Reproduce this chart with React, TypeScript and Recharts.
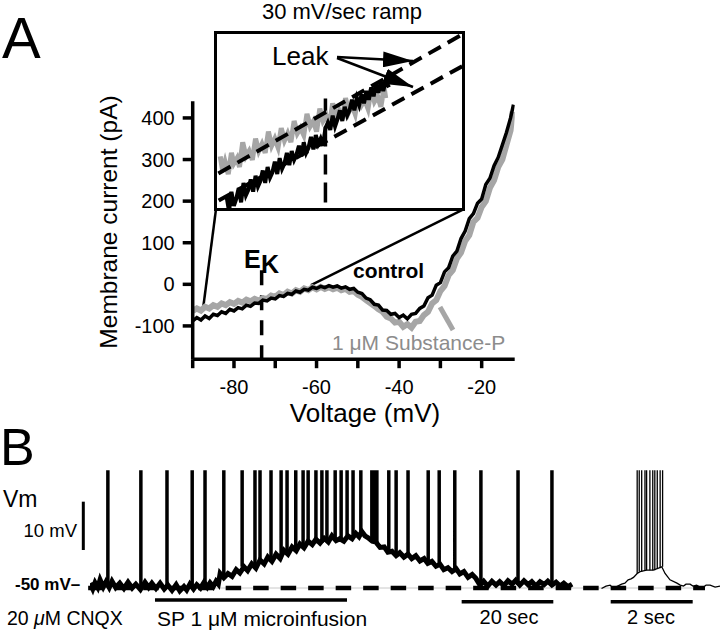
import React from 'react';
import { LineChart, Line, XAxis, YAxis, ReferenceLine } from 'recharts';

const FONT = '"Liberation Sans", Arial, Helvetica, sans-serif';
const GRAY = '#a6a6a6';

// ---- Panel A: ramp I-V (mV, pA) ----
const controlIV = [
  [-90, -88], [-89, -80], [-88, -86], [-87, -76], [-86, -82], [-85, -72], [-84, -75], [-83, -66],
  [-82, -70], [-81, -60], [-80, -64], [-79, -56], [-78, -59], [-77, -50], [-76, -53], [-75, -45],
  [-74, -46], [-73, -38], [-72, -40], [-71, -33], [-70, -35], [-69, -27], [-68, -29], [-67, -22],
  [-66, -24], [-65, -16], [-64, -19], [-63, -12], [-62, -14], [-61, -7], [-60, -10], [-59, -5],
  [-58, -8], [-57, -3], [-56, -7], [-55, -4], [-54, -9], [-53, -6], [-52, -12], [-51, -10],
  [-50, -19], [-49, -22], [-48, -33], [-47, -37], [-46, -48], [-45, -50], [-44, -62], [-43, -63],
  [-42, -72], [-41, -70], [-40, -80], [-39, -74], [-38, -83], [-37, -72], [-36, -70], [-35, -58],
  [-34, -52], [-33, -32], [-32, -26], [-31, -2], [-30, 4], [-29, 30], [-28, 40], [-27, 68],
  [-26, 80], [-25, 110], [-24, 128], [-23, 158], [-22, 170], [-21, 195], [-20, 205], [-19, 240],
  [-18, 255], [-17, 285], [-16, 305], [-15, 335], [-14, 365], [-13, 400], [-12.3, 432],
];

const substancePIV = [
  [-90, -64], [-89, -58], [-88, -63], [-87, -54], [-86, -58], [-85, -50], [-84, -54], [-83, -46],
  [-82, -50], [-81, -43], [-80, -47], [-79, -40], [-78, -44], [-77, -37], [-76, -41], [-75, -35],
  [-74, -39], [-73, -33], [-72, -35], [-71, -27], [-70, -30], [-69, -22], [-68, -26], [-67, -18],
  [-66, -22], [-65, -14], [-64, -18], [-63, -10], [-62, -14], [-61, -7], [-60, -12], [-59, -6],
  [-58, -11], [-57, -7], [-56, -12], [-55, -8], [-54, -14], [-53, -11], [-52, -18], [-51, -16],
  [-50, -25], [-49, -30], [-48, -38], [-47, -45], [-46, -52], [-45, -60], [-44, -66], [-43, -78],
  [-42, -82], [-41, -92], [-40, -90], [-39, -102], [-38, -96], [-37, -104], [-36, -90], [-35, -88],
  [-34, -74], [-33, -66], [-32, -46], [-31, -38], [-30, -16], [-29, -4], [-28, 22], [-27, 34],
  [-26, 62], [-25, 76], [-24, 104], [-23, 118], [-22, 150], [-21, 160], [-20, 186], [-19, 200],
  [-18, 232], [-17, 250], [-16, 282], [-15, 300], [-14, 335], [-13, 370], [-12.5, 415],
];

const voltTicks = [-90, -80, -70, -60, -50, -40, -30, -20];
const currTicks = [-100, 0, 100, 200, 300, 400];
const EK = -73.3;

// inset (magnified part of the ramp)
const insetSP = [
  [-86.4, -60], [-86.1, -68], [-85.8, -63], [-85.4, -70], [-85, -58], [-84.7, -64], [-84.3, -61], [-84, -66],
  [-83.6, -52], [-83.2, -60], [-82.8, -57], [-82.4, -62], [-82, -50], [-81.6, -57], [-81.2, -53], [-80.8, -58],
  [-80.4, -46], [-80, -54], [-79.6, -50], [-79.2, -55], [-78.8, -44], [-78.4, -51], [-78, -47], [-77.6, -52],
  [-77.2, -40], [-76.8, -47], [-76.4, -44], [-76, -48], [-75.6, -36], [-75.2, -43], [-74.8, -40], [-74.4, -46],
  [-74, -33], [-73.6, -40], [-73.2, -37], [-72.8, -42], [-72.4, -30], [-72, -37], [-71.6, -34], [-71.2, -39],
  [-70.8, -27], [-70.4, -35], [-70, -31], [-69.6, -36], [-69.2, -25], [-68.8, -31], [-68.4, -28], [-68, -33],
  [-67.6, -22], [-67.2, -29], [-66.8, -26], [-66.4, -32], [-66, -21], [-65.8, -27],
];
const insetControl = [
  [-85.6, -83], [-85.3, -91], [-85, -80], [-84.7, -88], [-84.4, -84], [-84.1, -78], [-83.8, -86], [-83.5, -75],
  [-83.2, -82], [-82.9, -79], [-82.6, -73], [-82.3, -80], [-82, -71], [-81.7, -77], [-81.4, -74], [-81.1, -68],
  [-80.8, -75], [-80.5, -66], [-80.2, -72], [-79.9, -69], [-79.6, -63], [-79.3, -70], [-79, -61], [-78.7, -67],
  [-78.4, -64], [-78.1, -58], [-77.8, -65], [-77.5, -57], [-77.2, -62], [-76.9, -59], [-76.6, -54], [-76.3, -60],
  [-76, -52], [-75.7, -58], [-75.4, -55], [-75.1, -49], [-74.8, -56], [-74.5, -48], [-74.2, -53], [-73.9, -50],
  [-73.6, -54], [-73.3, -44], [-73, -41], [-72.7, -45], [-72.4, -37], [-72.1, -43], [-71.8, -39], [-71.5, -34],
  [-71.2, -40], [-70.9, -32], [-70.6, -37], [-70.3, -34], [-70, -28], [-69.7, -34], [-69.4, -27], [-69.1, -31],
  [-68.8, -25], [-68.5, -30], [-68.2, -23], [-67.9, -28], [-67.6, -21], [-67.3, -26], [-67, -19], [-66.7, -24],
  [-66.4, -18], [-66.1, -23], [-65.8, -17], [-65.4, -21],
];
const leakSP = [[-86.63, -69.7], [-56.1, 9.4]];
const leakControl = [[-86.59, -84.9], [-56.1, -8.6]];

// ---- Panel B: membrane potential (s, mV) ----
const vmTrace = [
  [0, -49.0], [0.6, -50.2], [1.1, -48.9], [1.7, -49.9], [2.2, -48.3], [2.9, -49.8], [3.5, -48.7], [4.2, -49.9],
  [4.8, -48.6], [5.6, -49.9], [6.5, -49.0], [7.4, -50.1], [8.3, -48.8], [9.2, -50.0], [10.0, -49.2], [11.0, -50.3],
  [12.0, -48.8], [12.8, -49.9], [13.5, -49.0], [14.4, -50.1], [15.3, -49.0], [16.2, -50.2], [17.0, -49.4], [17.9, -50.5],
  [18.8, -49.3], [19.6, -50.6], [20.5, -49.7], [21.1, -50.4], [21.8, -49.2], [22.6, -50.2], [23.3, -49.3], [24.1, -50.0],
  [24.9, -48.8], [25.6, -49.8], [26.2, -48.9], [26.9, -49.7], [27.5, -48.6], [28.0, -49.2], [28.4, -47.0], [29.2, -47.9],
  [30.1, -47.0], [31.0, -47.6], [31.9, -46.2], [32.7, -46.9], [33.6, -45.6], [34.4, -46.4], [35.3, -45.0], [36.2, -45.9],
  [37.1, -44.2], [38.0, -45.0], [38.8, -43.6], [39.7, -44.5], [40.6, -43.0], [41.5, -43.9], [42.3, -42.2], [43.2, -43.0],
  [44.1, -41.5], [45.0, -42.3], [45.8, -40.9], [46.7, -41.7], [47.6, -40.3], [48.5, -41.0], [49.3, -39.9], [50.2, -40.7],
  [51.1, -39.7], [52.0, -40.5], [52.8, -39.2], [53.7, -40.2], [54.5, -39.8], [55.4, -40.3], [56.3, -39.2], [57.2, -39.8],
  [58.0, -38.7], [58.7, -39.4], [59.3, -38.3], [60.0, -39.2], [60.7, -39.6], [61.6, -40.3], [62.4, -40.5], [63.3, -41.6],
  [64.2, -41.5], [65.0, -42.6], [65.9, -42.4], [66.8, -43.3], [67.6, -42.7], [68.5, -43.6], [69.4, -43.0], [70.2, -43.9],
  [71.1, -43.3], [72.0, -44.4], [72.9, -43.9], [73.7, -44.9], [74.6, -44.5], [75.5, -45.5], [76.4, -45.1], [77.2, -46.2],
  [78.1, -45.8], [79.0, -46.6], [79.9, -46.0], [80.7, -47.1], [81.6, -46.6], [82.5, -47.8], [83.4, -47.2], [84.2, -48.0],
  [85.1, -49.4], [85.9, -48.6], [86.8, -49.6], [87.7, -48.6], [88.6, -49.4], [89.4, -48.7], [90.3, -49.5], [91.2, -48.5],
  [92.1, -49.2], [92.9, -48.4], [93.8, -49.4], [94.7, -48.5], [95.6, -49.3], [96.4, -48.7], [97.3, -49.6], [98.2, -48.7],
  [99.1, -49.3], [99.9, -48.6], [100.8, -49.4], [101.7, -48.8], [102.6, -49.6], [103.4, -49.0], [104.3, -49.7], [105.2, -49.2],
];
const spikeTimes = [
  3.9, 11.1, 16.8, 22.3, 25.1, 29.2, 33.2, 36.0, 37.1, 39.5, 41.7, 43.0, 44.9, 46.5, 47.6, 49.3, 50.6,
  51.7, 53.5, 54.8, 56.1, 57.4, 59.1, 61.5, 62.2, 62.6, 65.2, 66.8, 69.4, 73.8, 76.2, 79.6, 85.3, 93.4, 100.8,
];
const burstTrace = [
  [0.11, -50.1], [0.22, -49.6], [0.32, -49.4], [0.39, -50.0], [0.48, -49.7], [0.6, -49.2], [0.68, -49.0],
  [0.76, -48.3], [0.83, -48.1], [0.89, -47.8], [0.98, -47.0], [1.05, -46.6], [1.21, -46.3], [1.37, -46.3],
  [1.5, -45.9], [1.58, -45.6], [1.66, -47.0], [1.78, -48.3], [1.95, -49.0], [2.03, -49.4], [2.11, -49.6],
  [2.17, -49.2], [2.27, -49.2], [2.34, -49.6], [2.43, -49.4], [2.51, -49.8], [2.59, -49.9], [2.66, -49.4],
  [2.76, -49.4], [2.88, -49.8], [3.0, -49.6],
];
const burstSpikeTimes = [0.98, 1.03, 1.09, 1.17, 1.21, 1.29, 1.36, 1.41, 1.47, 1.54, 1.6];
const SPIKE_PEAK = -25.6;

const pts = (arr: number[][]) => arr.map(([x, y]) => ({ x, y }));
const nearestV = (trace: number[][], t: number) =>
  trace.reduce((b, p) => (Math.abs(p[0] - t) < Math.abs(b[0] - t) ? p : b))[1];
const spikeRows = (times: number[], trace: number[][]) =>
  times.flatMap((t) => [
    { x: t, y: nearestV(trace, t) },
    { x: t, y: SPIKE_PEAK },
    { x: t, y: null },
  ]);

const axisStyle = { stroke: '#000', strokeWidth: 3.5 };
const tickStyle = { fill: '#000', fontSize: 20, fontFamily: FONT };
const abs = (left: number, top: number): React.CSSProperties => ({ position: 'absolute', left, top });

const App: React.FC = () => {
  return (
    <div style={{ position: 'absolute', left: 0, top: 0, width: 720, height: 636, background: '#fff', fontFamily: FONT }}>
      {/* Panel A main chart */}
      <div style={abs(0, 0)}>
        <LineChart width={720} height={420} margin={{ top: 101.3, right: 205.3, bottom: 0, left: 0 }}>
          <XAxis type="number" dataKey="x" domain={[-90, -12]} ticks={voltTicks} interval={0}
            tickFormatter={(v: number) => (v % 20 === 0 ? String(v) : '')}
            axisLine={axisStyle} tickLine={axisStyle} tickSize={9} tickMargin={12} tick={tickStyle} height={60.8} allowDataOverflow />
          <YAxis type="number" dataKey="y" domain={[-180, 440]} ticks={currTicks} interval={0}
            axisLine={axisStyle} tickLine={axisStyle} tickSize={10} tickMargin={8} tick={tickStyle} width={192.7} allowDataOverflow />
          <ReferenceLine segment={[{ x: -84.35, y: 181 }, { x: -87.5, y: -59.4 }]} stroke="#000" strokeWidth={2.5} ifOverflow="visible" />
          <ReferenceLine segment={[{ x: -24.3, y: 181 }, { x: -61.35, y: -1.7 }]} stroke="#000" strokeWidth={2.5} ifOverflow="visible" />
          <ReferenceLine segment={[{ x: EK, y: 34 }, { x: EK, y: -180 }]} stroke="#000" strokeWidth={3.5} strokeDasharray="15 10" ifOverflow="visible" />
          <Line data={pts(substancePIV)} dataKey="y" stroke={GRAY} strokeWidth={6} dot={false} isAnimationActive={false} />
          <Line data={pts(controlIV)} dataKey="y" stroke="#000" strokeWidth={3.5} dot={false} isAnimationActive={false} />
        </LineChart>
      </div>

      {/* Panel A inset */}
      <div style={{ ...abs(213.5, 30.5), width: 251, height: 180, border: '3px solid #000', boxSizing: 'border-box', background: '#fff' }}>
        <LineChart width={245} height={174} margin={{ top: 0, right: 0, bottom: 0, left: 0 }}>
          <XAxis type="number" dataKey="x" domain={[-86.8, -56.3]} hide allowDataOverflow />
          <YAxis type="number" dataKey="y" domain={[-89.2, 9.2]} hide allowDataOverflow />
          <ReferenceLine segment={[{ x: EK, y: -27.3 }, { x: EK, y: -89.2 }]} stroke="#000" strokeWidth={3.5} strokeDasharray="20 8" ifOverflow="visible" />
          <Line data={pts(insetSP)} dataKey="y" stroke={GRAY} strokeWidth={5} dot={false} isAnimationActive={false} />
          <Line data={pts(insetControl)} dataKey="y" stroke="#000" strokeWidth={4} dot={false} isAnimationActive={false} />
          <Line data={pts(leakSP)} dataKey="y" stroke="#000" strokeWidth={4} strokeDasharray="14 8" dot={false} isAnimationActive={false} />
          <Line data={pts(leakControl)} dataKey="y" stroke="#000" strokeWidth={4} strokeDasharray="14 8" dot={false} isAnimationActive={false} />
        </LineChart>
      </div>

      {/* Panel B long recording */}
      <div style={abs(0, 420)}>
        <LineChart width={720} height={216} margin={{ top: 42.4, right: 15, bottom: 19, left: 90 }}>
          <XAxis type="number" dataKey="x" domain={[0, 134.2]} hide allowDataOverflow />
          <YAxis type="number" dataKey="y" domain={[-56, -24]} hide allowDataOverflow />
          <ReferenceLine segment={[{ x: -0.4, y: -50 }, { x: 134.2, y: -50 }]} stroke="#c8c8c8" strokeWidth={1} ifOverflow="visible" />
          <ReferenceLine segment={[{ x: -0.4, y: -50 }, { x: 134.2, y: -50 }]} stroke="#000" strokeWidth={4.5} strokeDasharray="15.5 12" ifOverflow="visible" />
          <ReferenceLine segment={[{ x: -1.46, y: -42.13 }, { x: -1.46, y: -32.13 }]} stroke="#000" strokeWidth={3} ifOverflow="visible" />
          <ReferenceLine segment={[{ x: 14.18, y: -52.48 }, { x: 56.08, y: -52.48 }]} stroke="#000" strokeWidth={3.5} ifOverflow="visible" />
          <ReferenceLine segment={[{ x: 81.1, y: -52.84 }, { x: 101.1, y: -52.84 }]} stroke="#000" strokeWidth={3.5} ifOverflow="visible" />
          <Line data={pts(vmTrace)} dataKey="y" stroke="#000" strokeWidth={5} dot={false} isAnimationActive={false} />
          <Line data={spikeRows(spikeTimes, vmTrace)} dataKey="y" stroke="#000" strokeWidth={3.5} dot={false} connectNulls={false} isAnimationActive={false} />
        </LineChart>
      </div>

      {/* Panel B burst (2 sec scale) */}
      <div style={abs(560, 420)}>
        <LineChart width={160} height={216} margin={{ top: 42.4, right: 0, bottom: 19, left: 37 }}>
          <XAxis type="number" dataKey="x" domain={[0, 3]} hide allowDataOverflow />
          <YAxis type="number" dataKey="y" domain={[-56, -24]} hide allowDataOverflow />
          <ReferenceLine segment={[{ x: 0.334, y: -52.84 }, { x: 2.334, y: -52.84 }]} stroke="#000" strokeWidth={3.5} ifOverflow="visible" />
          <Line data={pts(burstTrace)} dataKey="y" stroke="#000" strokeWidth={1.3} dot={false} isAnimationActive={false} />
          <Line data={spikeRows(burstSpikeTimes, burstTrace)} dataKey="y" stroke="#000" strokeWidth={1.3} dot={false} connectNulls={false} isAnimationActive={false} />
        </LineChart>
      </div>

      {/* annotations */}
      <svg width={720} height={636} style={{ position: 'absolute', left: 0, top: 0, pointerEvents: 'none' }} fontFamily={FONT}>
        <defs>
          <marker id="arrowHead" markerUnits="userSpaceOnUse" markerWidth={32} markerHeight={16} refX={30} refY={8} orient="auto">
            <path d="M0,0 L30,8 L0,16 Z" fill="#000" />
          </marker>
        </defs>
        <text x={2} y={58} fontSize={58}>A</text>
        <text x={342} y={19} fontSize={22} textAnchor="middle">30 mV/sec ramp</text>
        <text x={272} y={65} fontSize={26}>Leak</text>
        <line x1={337} y1={57} x2={413} y2={61} stroke="#000" strokeWidth={2.5} markerEnd="url(#arrowHead)" />
        <line x1={337} y1={58} x2={413} y2={87} stroke="#000" strokeWidth={2.5} markerEnd="url(#arrowHead)" />
        <text x={244} y={268} fontSize={25} fontWeight="bold">E</text>
        <text x={261} y={273} fontSize={25} fontWeight="bold">K</text>
        <text x={353} y={278} fontSize={21} fontWeight="bold">control</text>
        <line x1={440} y1={307} x2={453} y2={330} stroke={GRAY} strokeWidth={5} />
        <text x={332} y={350} fontSize={21} fill="#8c8c8c">1 μM Substance-P</text>
        <text x={365} y={422} fontSize={26} textAnchor="middle">Voltage (mV)</text>
        <text transform="translate(117,222) rotate(-90)" fontSize={24.5} textAnchor="middle">Membrane current (pA)</text>

        <text x={0} y={465} fontSize={52}>B</text>
        <text x={3} y={507} fontSize={23}>Vm</text>
        <text x={77} y={537} fontSize={18.5} textAnchor="end">10 mV</text>
        <text x={15} y={590} fontSize={17} fontWeight="bold">-50 mV–</text>
        <text x={7} y={625} fontSize={19.5}>20 <tspan fontStyle="italic">μ</tspan>M CNQX</text>
        <text x={157} y={626} fontSize={21}>SP 1 μM microinfusion</text>
        <text x={509} y={624} fontSize={20} textAnchor="middle">20 sec</text>
        <text x={651} y={624} fontSize={20} textAnchor="middle">2 sec</text>
      </svg>
    </div>
  );
};

export default App;
